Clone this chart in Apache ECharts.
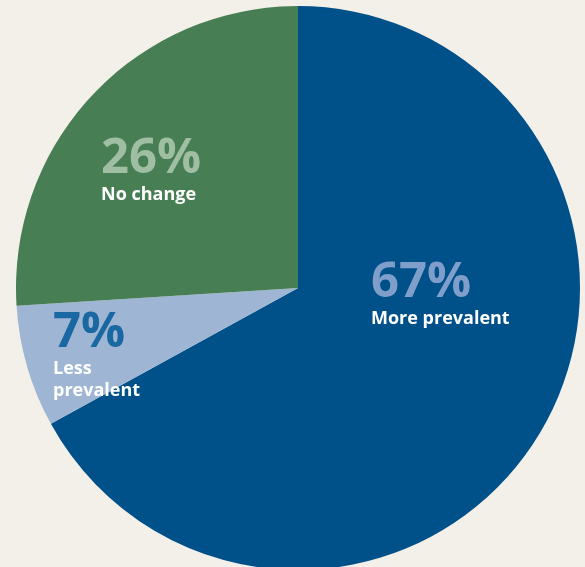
<!DOCTYPE html>
<html>
<head>
<meta charset="utf-8">
<style>
  html, body { margin: 0; padding: 0; background: #f3efe9; }
  #chart { width: 585px; height: 567px; }
</style>
<script src="https://cdn.jsdelivr.net/npm/echarts@6/dist/echarts.min.js"></script>
</head>
<body>
<div id="chart"></div>
<script>
// slice data, in clockwise order from 12 o'clock
var categories = ['More prevalent', 'Less prevalent', 'No change'];
var values = [67, 7, 26];
var nameLines = [['More prevalent'], ['Less', 'prevalent'], ['No change']];

var sliceColors = ['#00508a', '#9fb5d4', '#477e53'];
var pctColors = ['#7f9fca', '#1a68a2', '#a0bea2'];
// top-left corner of each label block
var labelPos = [[371, 258], [53, 308], [101, 134]];

var myChart = echarts.init(document.getElementById('chart'));

var data = categories.map(function (c, i) {
  return {
    name: c,
    value: values[i],
    itemStyle: { color: sliceColors[i] },
    label: {
      formatter: '{p' + i + '|' + values[i] + '%}\n' +
        nameLines[i].map(function (t) { return '{n|' + t + '}'; }).join('\n')
    }
  };
});

var rich = {
  n: {
    fontFamily: 'Open Sans', fontWeight: 'bold', fontSize: 18,
    color: '#ffffff', lineHeight: 22
  }
};
pctColors.forEach(function (col, i) {
  rich['p' + i] = {
    fontFamily: 'Open Sans', fontWeight: 'bold', fontSize: 49,
    color: col, lineHeight: 50
  };
});

var option = {
  backgroundColor: '#f3efe9',
  animation: false,
  series: [{
    type: 'pie',
    center: [298, 288],
    radius: [0, 282],
    startAngle: 90,
    clockwise: true,
    silent: true,
    data: data,
    label: {
      show: true,
      position: 'inside',
      align: 'left',
      verticalAlign: 'top',
      rich: rich
    },
    labelLine: { show: false },
    labelLayout: function (p) {
      var pos = labelPos[p.dataIndex];
      return { x: pos[0], y: pos[1], align: 'left', verticalAlign: 'top' };
    }
  }]
};
myChart.setOption(option);
</script>
</body>
</html>
